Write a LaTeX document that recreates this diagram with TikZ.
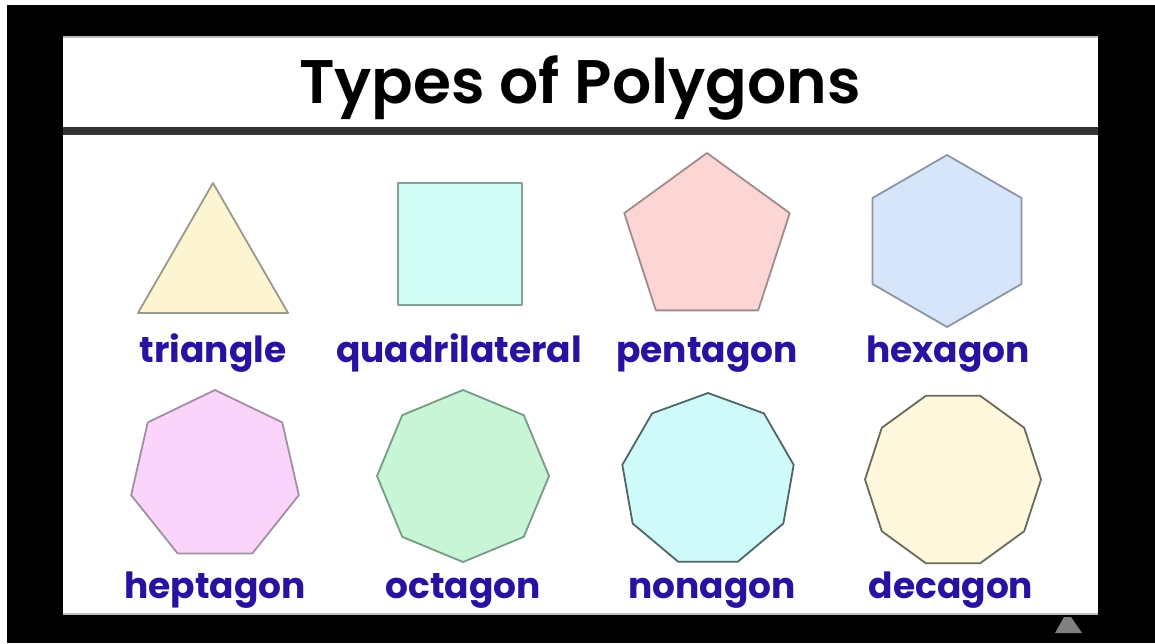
\documentclass[tikz,border=0pt]{standalone}
\usepackage{fontspec}
\setmainfont{Poppins}
\newfontfamily\titlefont{Poppins}[UprightFont=* SemiBold]
\definecolor{labelblue}{RGB}{42,18,160}
\definecolor{rulegray}{RGB}{51,51,51}
\definecolor{tribg}{HTML}{FDF4D2}\definecolor{triln}{HTML}{9A9A8C}
\definecolor{sqbg}{HTML}{CFFCF4}\definecolor{sqln}{HTML}{88A09A}
\definecolor{pentbg}{HTML}{FBD6D4}\definecolor{pentln}{HTML}{A08C8C}
\definecolor{hexbg}{HTML}{D7E5FA}\definecolor{hexln}{HTML}{8C96A2}
\definecolor{heptbg}{HTML}{FAD4FA}\definecolor{heptln}{HTML}{A090A2}
\definecolor{octbg}{HTML}{C8F5D6}\definecolor{octln}{HTML}{789A86}
\definecolor{nonbg}{HTML}{CEFAFA}\definecolor{nonln}{HTML}{506666}
\definecolor{decbg}{HTML}{FFF8DC}\definecolor{decln}{HTML}{6A6A5C}
\newcommand\regpoly[6]{% style, cx, cy, R, n, start angle
  \pgfmathtruncatemacro\polynm{#5-1}%
  \draw[#1] ({#2+#4*cos(#6)},{#3-#4*sin(#6)})
    \foreach \k in {1,...,\polynm}{ -- ({#2+#4*cos(#6+360*\k/#5)},{#3-#4*sin(#6+360*\k/#5)}) } -- cycle;%
}
\begin{document}
\begin{tikzpicture}[x=1pt,y=-1pt,
  edge/.style={line width=1.8pt, line join=round},
  lbl/.style={anchor=base, text=labelblue, inner sep=0pt, font=\bfseries\fontsize{36}{36}\selectfont}]
\useasboundingbox (0,0) rectangle (1155,643);
\fill[black] (0,0) rectangle (1155,643);
\fill[white] (0,0) rectangle (1155,5);
\fill[white] (0,0) rectangle (7,643);
\fill[white] (63,36) rectangle (1098,615);
\draw[black!25, line width=1.5pt] (63,37) -- (1098,37);
\draw[black!25, line width=1.5pt] (63,614) -- (1098,614);
\fill[rulegray] (63,127) rectangle (1098,135);
\node[anchor=base, inner sep=0pt, font=\titlefont\fontsize{61.5}{61.5}\selectfont] (title) at (580,103) {Types of Polygons};
% shapes
\regpoly{edge, fill=tribg, draw=triln}{213}{269.6}{86.6}{3}{90}
\draw[edge, fill=sqbg, draw=sqln] (398,183) rectangle (522,305);
\regpoly{edge, fill=pentbg, draw=pentln}{707}{240}{87}{5}{90}
\regpoly{edge, fill=hexbg, draw=hexln}{947}{241}{86}{6}{90}
\regpoly{edge, fill=heptbg, draw=heptln}{215}{476}{86}{7}{90}
\regpoly{edge, fill=octbg, draw=octln}{463}{476}{86}{8}{90}
\regpoly{edge, fill=nonbg, draw=nonln}{708}{480}{87}{9}{90}
\regpoly{edge, fill=decbg, draw=decln}{953}{479.5}{88}{10}{0}
% labels
\node[lbl] (ltri) at (213,362) {triangle};
\node[lbl] (lquad) at (459,362) {quadrilateral};
\node[lbl] (lpent) at (707,362) {pentagon};
\node[lbl] (lhex) at (948,362) {hexagon};
\node[lbl] (lhept) at (215,598) {heptagon};
\node[lbl] (loct) at (463,598) {octagon};
\node[lbl] (lnon) at (712,598) {nonagon};
\node[lbl] (ldec) at (951,598) {decagon};
% small icon
\fill[black!50] (1064,617) -- (1071,617) -- (1082,633) -- (1055,633) -- cycle;
\end{tikzpicture}
\end{document}
